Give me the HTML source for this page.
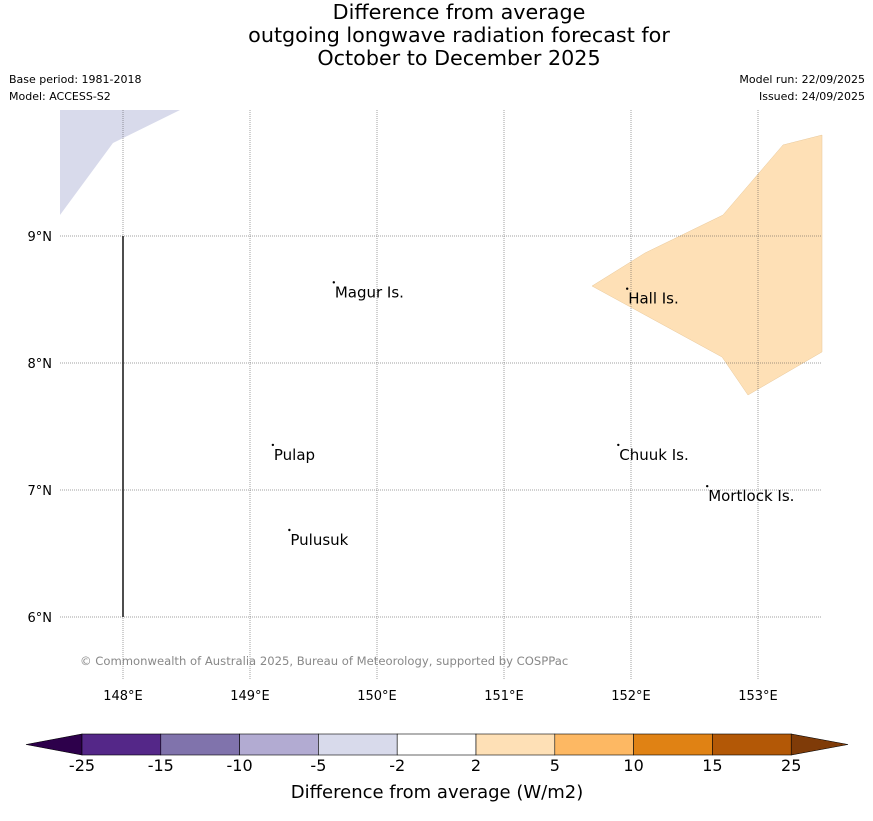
<!DOCTYPE html>
<html><head><meta charset="utf-8">
<style>
body{margin:0;background:#fff;font-family:"Liberation Sans",sans-serif;}
svg text{font-family:"DejaVu Sans","Liberation Sans",sans-serif;}
</style></head>
<body>
<svg id="chart" width="873" height="816" xmlns="http://www.w3.org/2000/svg">
<text x="459" y="19" font-size="20.7" text-anchor="middle">Difference from average</text>
<text x="459" y="42" font-size="20.7" text-anchor="middle">outgoing longwave radiation forecast for</text>
<text x="459" y="65" font-size="20.7" text-anchor="middle">October to December 2025</text>
<text x="9" y="83" font-size="11">Base period: 1981-2018</text>
<text x="9" y="100" font-size="11">Model: ACCESS-S2</text>
<text x="865" y="83" font-size="11" text-anchor="end">Model run: 22/09/2025</text>
<text x="865" y="100" font-size="11" text-anchor="end">Issued: 24/09/2025</text>
<g id="map"></g>
<g id="cbar"></g>
<text x="437" y="798" font-size="18" text-anchor="middle">Difference from average (W/m2)</text>
</svg>
<script>
const lonTicks=[148,149,150,151,152,153];
const latTicks=[6,7,8,9];
const levels=[-25,-15,-10,-5,-2,2,5,10,15,25];
const levelColors=["#542788","#8073ac","#b2abd2","#d8daeb","#ffffff","#fee0b6","#fdb863","#e08214","#b35806"];
const underColor="#2d004b", overColor="#7f3b08";
const lowRegion=[[147.504,9.992],[148.449,9.992],[147.921,9.732],[147.504,9.165]];
const highRegion=[[151.693,8.606],[152.110,8.866],[152.724,9.165],[153.197,9.717],[153.504,9.795],[153.504,8.087],[152.921,7.748],[152.717,8.047]];
const islandNames=["Magur Is.","Hall Is.","Pulap","Chuuk Is.","Mortlock Is.","Pulusuk"];
const islandLon=[149.66,151.97,149.18,151.9,152.6,149.31];
const islandLat=[8.58,8.53,7.30,7.30,6.975,6.63];
const NS="http://www.w3.org/2000/svg";
const X=lon=>123+(lon-148)*127, Y=lat=>236-(lat-9)*127;
const map=document.getElementById('map');
function mk(tag,attrs,parent){const e=document.createElementNS(NS,tag);for(const k in attrs)e.setAttribute(k,attrs[k]);parent.appendChild(e);return e;}
let p=mk('polygon',{points:lowRegion.map(d=>X(d[0])+','+Y(d[1])).join(' '),fill:'#d8daeb'},map);


p=mk('polygon',{points:highRegion.map(d=>X(d[0])+','+Y(d[1])).join(' '),fill:'#fee0b6',stroke:'#e8c89a','stroke-width':0.5},map);


lonTicks.forEach(v=>{
 let l=mk('line',{x1:X(v),x2:X(v),y1:110,y2:680,stroke:'#444','stroke-width':0.5,'stroke-dasharray':'1,1'},map);
 
 
 let t=mk('text',{x:X(v),y:700,'font-size':13,'text-anchor':'middle'},map);t.textContent=v+'°E';
 
 
});
latTicks.forEach(v=>{
 let l=mk('line',{x1:60,x2:822,y1:Y(v),y2:Y(v),stroke:'#444','stroke-width':0.5,'stroke-dasharray':'1,1'},map);
 
 
 let t=mk('text',{x:52,y:Y(v)+5,'font-size':13,'text-anchor':'end'},map);t.textContent=v+'°N';
 
 
});
let vl=mk('line',{x1:X(148),x2:X(148),y1:Y(9),y2:Y(6),stroke:'#222','stroke-width':1.6},map);


islandNames.forEach((n,i)=>{
 let d=mk('circle',{cx:X(islandLon[i]),cy:Y(islandLat[i])-7,r:1.2,fill:'#000'},map);
 
 
 let t=mk('text',{x:X(islandLon[i])+1,y:Y(islandLat[i])+8,'font-size':15},map);t.textContent=n;
 
 
});
let cr=mk('text',{x:80,y:665,'font-size':11.6,fill:'#888'},map);cr.textContent='© Commonwealth of Australia 2025, Bureau of Meteorology, supported by COSPPac';


const cb=document.getElementById('cbar');
const x0=82,w=78.8,y0=734,h=21;
let tri=mk('polygon',{points:`${x0},${y0} ${x0},${y0+h} 26,${y0+h/2}`,fill:underColor,stroke:'#000','stroke-width':0.6},cb);


const xe=x0+w*levelColors.length;
tri=mk('polygon',{points:`${xe},${y0} ${xe},${y0+h} 848,${y0+h/2}`,fill:overColor,stroke:'#000','stroke-width':0.6},cb);


levelColors.forEach((c,i)=>{
 let r=mk('rect',{x:x0+i*w,y:y0,width:w,height:h,fill:c,stroke:'#000','stroke-width':0.6},cb);
 
 
});
levels.forEach((v,i)=>{
 let t=mk('text',{x:x0+i*w,y:771,'font-size':16,'text-anchor':'middle'},cb);t.textContent=v;
 
 
});
</script>
</body></html>
